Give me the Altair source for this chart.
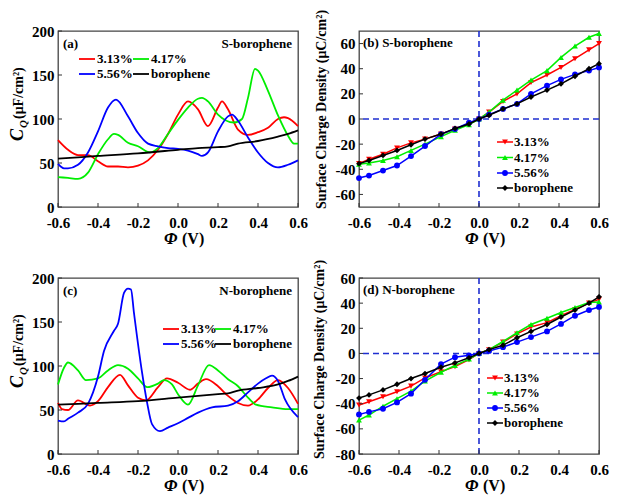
import altair as alt
import pandas as pd

# ---------------- data ----------------
NAMES = ["3.13%", "4.17%", "5.56%", "borophene"]
COLORS = ["#ff0000", "#00ee00", "#0000ff", "#000000"]
SHAPES = ["triangle-down", "triangle-up", "circle", "diamond"]

PHI_TICKS = [-0.6, -0.4, -0.2, 0.0, 0.2, 0.4, 0.6]
CQ_TICKS = [0, 50, 100, 150, 200]
B_TICKS = [-60, -40, -20, 0, 20, 40, 60]
D_TICKS = [-80, -60, -40, -20, 0, 20, 40, 60]

# (a) S-borophene quantum capacitance
A_RED_X = [-0.6, -0.55, -0.5, -0.45, -0.4, -0.35, -0.3, -0.25, -0.2, -0.15, -0.1, -0.05, 0.0, 0.05, 0.1, 0.15, 0.2, 0.22, 0.25, 0.3, 0.35, 0.4, 0.45, 0.5, 0.53, 0.55, 0.6]
A_RED_Y = [76, 65, 59, 59, 52, 46, 46, 45, 47, 53, 65, 83, 105, 120, 111, 92, 113, 120, 111, 88, 82, 85, 90, 100, 102, 101, 92]
A_GREEN_X = [-0.6, -0.55, -0.5, -0.45, -0.4, -0.35, -0.32, -0.3, -0.25, -0.2, -0.14, -0.1, -0.05, 0.0, 0.05, 0.1, 0.12, 0.15, 0.2, 0.28, 0.32, 0.35, 0.385, 0.4, 0.45, 0.5, 0.55, 0.58, 0.6]
A_GREEN_Y = [34, 33, 32, 39, 60, 77, 83, 82, 73, 69, 62, 67, 83, 99, 113, 123, 124, 120, 105, 96, 100, 124, 157, 155, 132, 104, 81, 72, 72]
A_BLUE_X = [-0.6, -0.57, -0.55, -0.5, -0.45, -0.4, -0.35, -0.31, -0.25, -0.2, -0.15, -0.1, -0.05, 0.0, 0.05, 0.1, 0.12, 0.15, 0.2, 0.25, 0.27, 0.3, 0.35, 0.4, 0.45, 0.5, 0.55, 0.6]
A_BLUE_Y = [49, 44, 44, 48, 62, 86, 113, 122, 103, 84, 72, 69, 67, 66, 64, 60, 58, 62, 86, 103, 105, 98, 79, 62, 50, 45, 48, 53]
A_BLACK_X = [-0.6, -0.4, -0.2, 0.0, 0.1, 0.2, 0.25, 0.3, 0.4, 0.5, 0.55, 0.6]
A_BLACK_Y = [55, 58, 61, 65, 67, 68, 69, 72, 75, 80, 83, 87]

# (c) N-borophene quantum capacitance
C_RED_X = [-0.6, -0.58, -0.55, -0.5, -0.44, -0.4, -0.35, -0.29, -0.25, -0.2, -0.16, -0.1, -0.055, 0.0, 0.06, 0.1, 0.14, 0.2, 0.25, 0.3, 0.35, 0.4, 0.45, 0.5, 0.55, 0.6]
C_RED_Y = [58, 51, 50, 61, 55, 60, 76, 90, 78, 64, 61, 76, 86, 81, 73, 80, 85, 77, 66, 58, 55, 62, 75, 84, 75, 57]
C_GREEN_X = [-0.6, -0.57, -0.55, -0.5, -0.46, -0.4, -0.35, -0.3, -0.25, -0.2, -0.154, -0.1, -0.07, -0.03, 0.0, 0.05, 0.1, 0.155, 0.2, 0.25, 0.3, 0.35, 0.39, 0.47, 0.55, 0.6]
C_GREEN_Y = [79, 98, 104, 95, 84, 86, 95, 101, 97, 86, 76, 80, 84, 79, 68, 56, 78, 101, 95, 85, 77, 64, 56, 53, 51, 51]
C_BLUE_X = [-0.6, -0.57, -0.55, -0.5, -0.45, -0.4, -0.37, -0.32, -0.3, -0.27, -0.25, -0.235, -0.22, -0.18, -0.155, -0.13, -0.09, -0.05, 0.0, 0.05, 0.1, 0.17, 0.25, 0.3, 0.35, 0.4, 0.44, 0.47, 0.5, 0.535, 0.6]
C_BLUE_Y = [38, 37, 40, 47, 57, 88, 117, 140, 148, 183, 188, 187, 160, 93, 59, 34, 26, 30, 35, 41, 47, 53, 55, 60, 70, 80, 86, 89, 83, 62, 42]
C_BLACK_X = [-0.6, -0.4, -0.2, 0.0, 0.2, 0.25, 0.3, 0.4, 0.5, 0.55, 0.6]
C_BLACK_Y = [56, 58, 60, 64, 68, 69, 72, 75, 79, 83, 88]

# (b), (d) surface charge density
SCD_X = [-0.6, -0.55, -0.48, -0.41, -0.34, -0.27, -0.19, -0.12, -0.05, 0.0, 0.05, 0.12, 0.19, 0.26, 0.34, 0.41, 0.48, 0.55, 0.6]
B_RED = [-35.5, -32, -28, -23, -19, -16, -12, -8, -4, 0, 5.5, 14, 20, 29, 35, 41, 48, 55, 60]
B_GREEN = [-36, -35, -33, -30, -25, -20, -14, -9, -4.5, 0, 5.5, 15, 23, 31, 38.5, 49, 58, 65, 68]
B_BLUE = [-47, -45, -41, -37, -29.5, -21.5, -12, -8, -3, 0, 3.5, 8, 12, 20, 26.5, 31.5, 35.5, 38.5, 41]
B_BLACK = [-35.5, -33, -29, -25, -20.5, -16, -12, -7.5, -4, 0, 3, 8, 12, 17.5, 23, 28, 34, 40, 44]
D_RED = [-41, -38.5, -34.5, -30.5, -26, -19.5, -14.5, -10.5, -5, 0, 3, 9, 15.5, 21, 24.5, 30, 35, 40, 43]
D_GREEN = [-53, -49, -42, -36, -30, -22, -15, -9.5, -4.5, 0, 3, 9.5, 16.5, 23, 28, 32.5, 36.5, 40.5, 41]
D_BLUE = [-48.5, -46.5, -44, -39, -32, -21, -8.5, -3, -1.5, 0, 2, 5, 9, 13, 17.5, 23.5, 30, 34.5, 37]
D_BLACK = [-35.5, -33, -29, -24.5, -20, -16, -11, -7.5, -3.5, 0, 3, 6.5, 12.5, 17.5, 23, 29, 34.5, 40, 45]

# ---------------- styling ----------------
W, H = 240, 176
FONT = "Liberation Serif"
DASH_BLUE = "#1f2fd0"


def neg_expr(fmt):
    return "(datum.value < 0 ? '-' : '') + format(abs(datum.value), '%s')" % fmt


def x_axis():
    return alt.Axis(values=PHI_TICKS, labelExpr=neg_expr(".1f"), title=None, tickSize=0,
                    domain=False, grid=False, labelFont=FONT, labelFontSize=15,
                    labelFontWeight="bold", labelColor="black", labelPadding=8,
                    labelFlush=False, labelOverlap=False)


def y_axis(ticks, title=None, tx=0, ty=0):
    kw = dict(values=ticks, labelExpr=neg_expr("d"), tickSize=0, domain=False, grid=False,
              labelFont=FONT, labelFontSize=15, labelFontWeight="bold", labelColor="black",
              labelPadding=4, labelFlush=False, labelOverlap=False)
    if title:
        kw.update(title=title, titleFont=FONT, titleFontSize=14, titleFontWeight="bold",
                  titleColor="black", titleX=tx, titleY=ty, titleAngle=270,
                  titleBaseline="bottom", titleAlign="center")
    else:
        kw.update(title=None)
    return alt.Axis(**kw)


def text(s, x, y, size=13, style="normal", align="left", baseline="middle", angle=0):
    return alt.Chart(pd.DataFrame({"t": [s]})).mark_text(
        text=s, font=FONT, fontSize=size, fontWeight="bold", fontStyle=style,
        align=align, baseline=baseline, angle=angle, color="black"
    ).encode(x=alt.value(x), y=alt.value(y))


def seg(x1, x2, y, color, width=1.8):
    return alt.Chart(pd.DataFrame({"t": [0]})).mark_rule(color=color, strokeWidth=width).encode(
        x=alt.value(x1), x2=alt.value(x2), y=alt.value(y))


def dot(x, y, color, shape):
    return alt.Chart(pd.DataFrame({"t": [0]})).mark_point(
        filled=True, size=34, opacity=1, color=color, shape=shape).encode(
        x=alt.value(x), y=alt.value(y))


def tick_layers(yticks, xax, yax, xs, ys):
    xt = alt.Chart(pd.DataFrame({"v": PHI_TICKS})).mark_rule(color="#333", strokeWidth=1).encode(
        x=alt.X("v:Q", scale=xs, axis=xax), y=alt.value(H), y2=alt.value(H - 4))
    yt = alt.Chart(pd.DataFrame({"v": yticks})).mark_rule(color="#333", strokeWidth=1).encode(
        y=alt.Y("v:Q", scale=ys, axis=yax), x=alt.value(0), x2=alt.value(4))
    return [xt, yt]


def phi_title():
    return [text("Φ", W / 2 - 14, H + 37, size=17, style="italic", baseline="alphabetic"),
            text("(V)", W / 2 + 4, H + 37, size=16, baseline="alphabetic")]


def cq_panel(series, tag, name, leg):
    xs = alt.Scale(domain=[-0.6, 0.6], nice=False, zero=False)
    ys = alt.Scale(domain=[0, 200], nice=False, zero=False)
    xax, yax = x_axis(), y_axis(CQ_TICKS)
    layers = []
    for col, (xv, yv) in zip(COLORS, series):
        df = pd.DataFrame({"x": xv, "y": yv})
        layers.append(alt.Chart(df).mark_line(interpolate="monotone", color=col, strokeWidth=1.8).encode(
            x=alt.X("x:Q", scale=xs, axis=xax), y=alt.Y("y:Q", scale=ys, axis=yax)))
    layers += tick_layers(CQ_TICKS, xax, yax, xs, ys)
    # legend (2 x 2)
    (r1, r2), (c1, c2) = leg
    for i, (nm, col) in enumerate(zip(NAMES, COLORS)):
        ry = [r1, r1, r2, r2][i]
        cx = [c1, c2, c1, c2][i]
        layers.append(seg(cx, cx + 16, ry, col))
        layers.append(text(nm, cx + 18, ry))
    layers.append(text(tag, 5, 13))
    layers.append(text(name, W - 6, 13, align="right"))
    # y title C_Q (μF/cm²)
    layers.append(text("C", -35, 110, size=18, style="italic", baseline="alphabetic", angle=270))
    layers.append(text("Q", -31, 97, size=11, style="italic", baseline="alphabetic", angle=270))
    layers.append(text("(μF/cm²)", -35, 88, size=14, baseline="alphabetic", angle=270))
    layers += phi_title()
    return alt.layer(*layers).properties(width=W, height=H)


def scd_panel(series, ydom, yticks, label, leg_rows, leg_x, tx, ty):
    xs = alt.Scale(domain=[-0.6, 0.6], nice=False, zero=False)
    ys = alt.Scale(domain=ydom, nice=False, zero=False)
    xax = x_axis()
    yax = y_axis(yticks, "Surface Charge Density (μC/cm²)", tx, ty)
    layers = []
    hz = alt.Chart(pd.DataFrame({"v": [0]})).mark_rule(color=DASH_BLUE, strokeWidth=1.6, strokeDash=[6, 4]).encode(
        y=alt.Y("v:Q", scale=ys, axis=yax))
    vt = alt.Chart(pd.DataFrame({"v": [0]})).mark_rule(color=DASH_BLUE, strokeWidth=1.6, strokeDash=[6, 4]).encode(
        x=alt.X("v:Q", scale=xs, axis=xax))
    layers += [hz, vt]
    for col, shp, yv in zip(COLORS, SHAPES, series):
        df = pd.DataFrame({"x": SCD_X, "y": yv})
        base = alt.Chart(df).encode(x=alt.X("x:Q", scale=xs, axis=xax), y=alt.Y("y:Q", scale=ys, axis=yax))
        layers.append(base.mark_line(color=col, strokeWidth=1.5))
        layers.append(base.mark_point(filled=True, size=34, opacity=1, color=col, shape=shp))
    layers += tick_layers(yticks, xax, yax, xs, ys)
    for i, (nm, col, shp) in enumerate(zip(NAMES, COLORS, SHAPES)):
        ry = leg_rows[i]
        layers.append(seg(leg_x, leg_x + 16, ry, col, 1.5))
        layers.append(dot(leg_x + 8, ry, col, shp))
        layers.append(text(nm, leg_x + 17, ry))
    layers.append(text(label, 4, 12))
    layers += phi_title()
    return alt.layer(*layers).properties(width=W, height=H)


pa = cq_panel([(A_RED_X, A_RED_Y), (A_GREEN_X, A_GREEN_Y), (A_BLUE_X, A_BLUE_Y), (A_BLACK_X, A_BLACK_Y)],
              "(a)", "S-borophene", ((28, 43), (21, 75)))
pc = cq_panel([(C_RED_X, C_RED_Y), (C_GREEN_X, C_GREEN_Y), (C_BLUE_X, C_BLUE_Y), (C_BLACK_X, C_BLACK_Y)],
              "(c)", "N-borophene", ((51, 66), (105, 157)))
pb = scd_panel([B_RED, B_GREEN, B_BLUE, B_BLACK], [-70, 70], B_TICKS, "(b) S-borophene",
               [111, 126.5, 142, 157], 138, -31, 78)
pd_ = scd_panel([D_RED, D_GREEN, D_BLUE, D_BLACK], [-80, 60], D_TICKS, "(d) N-borophene",
                [100, 115, 130, 145], 128, -33, 81)

chart = alt.concat(pa, pb, pc, pd_, columns=2, spacing={"row": 71, "column": 61}, bounds="flush").properties(
    padding=0, background="white"
).configure_view(stroke="#444", strokeWidth=1.3)

chart.save("out.html", embed_options={"renderer": "svg", "actions": False})
